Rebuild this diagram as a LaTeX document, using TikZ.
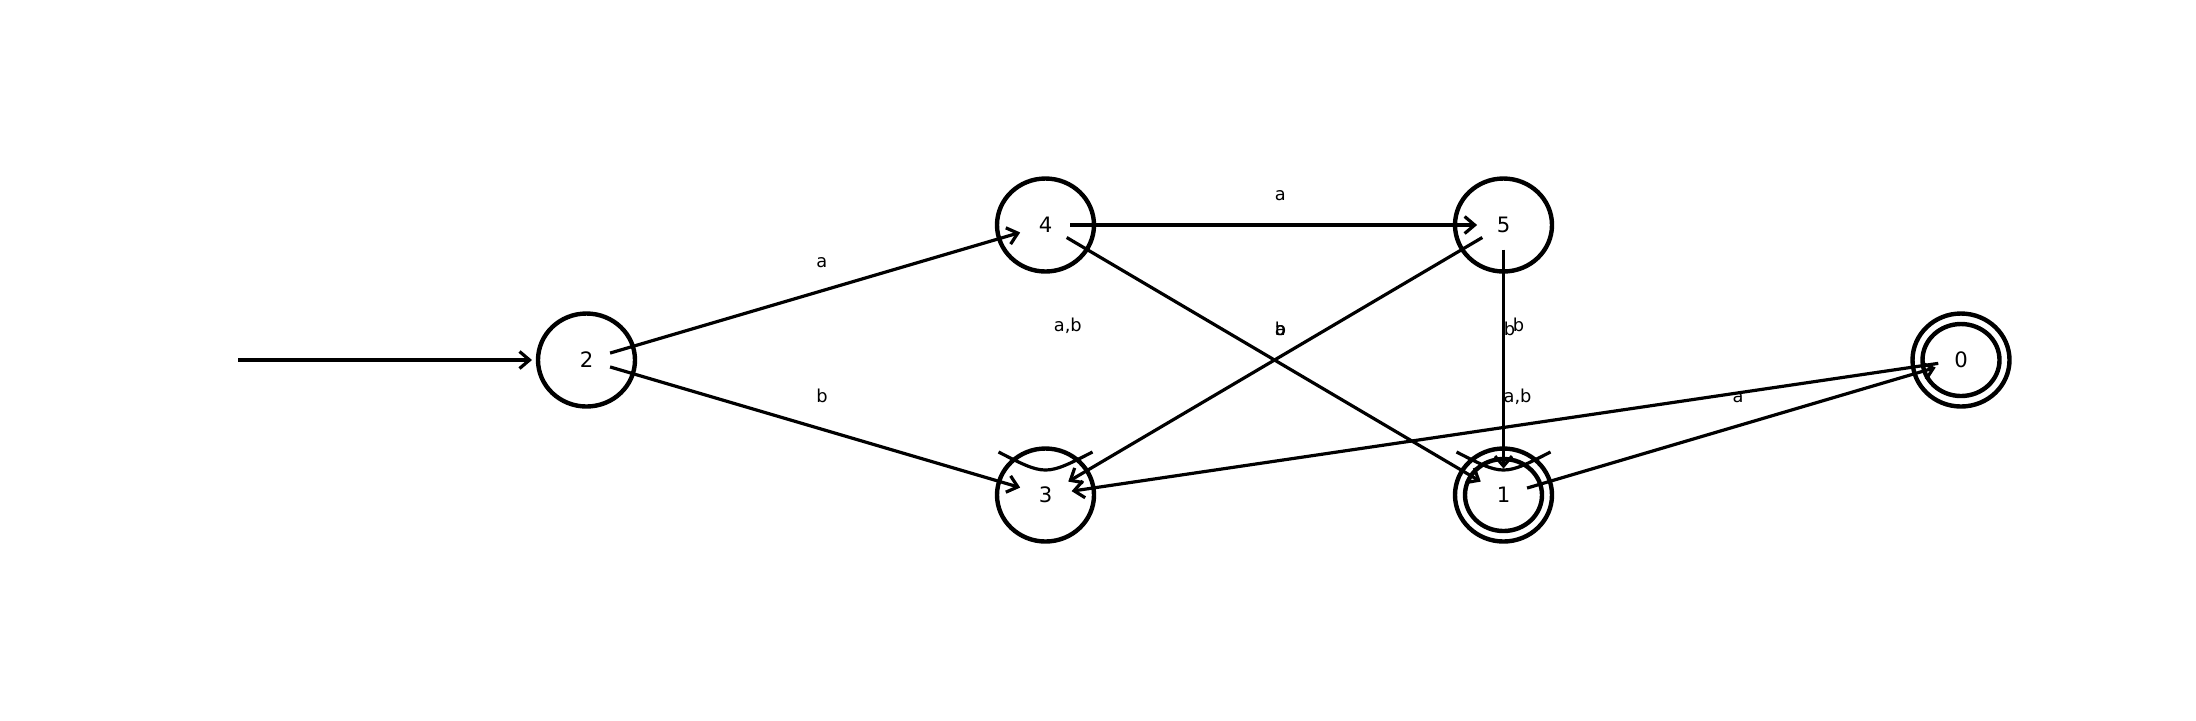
\documentclass[tikz,border=0pt]{standalone}
\usepackage{fontspec}
\setmainfont{DejaVu Sans}
\usetikzlibrary{arrows.meta,calc,shapes.geometric}
\tikzset{
  state/.style={ellipse, draw, line width=2.2pt, minimum width=48.5pt, minimum height=46.5pt, inner sep=0pt, font=\fontsize{10.6}{12}\selectfont},
  innerring/.style={ellipse, draw, line width=2.2pt, minimum width=38.5pt, minimum height=36pt, inner sep=0pt},
  edge/.style={line width=1.6pt, -{Straight Barb[length=5pt,width=8.5pt]}},
  loopline/.style={line width=1.6pt},
  lab/.style={anchor=base west, inner sep=0pt, font=\fontsize{8.9}{10}\selectfont},
}
\begin{document}
\begin{tikzpicture}[x=0.5pt,y=-0.5pt]
\useasboundingbox[fill=white] (0,0) rectangle (2196,720);
% states
\node[state] (n2) at (586.5,360) {2};
\node[state] (n4) at (1045.5,225) {4};
\node[state] (n5) at (1503.5,225) {5};
\node[state] (n3) at (1045.5,495) {3};
\node[state] (n1) at (1503.5,495) {1};
\node[innerring] (n1i) at (n1) {};
\node[state] (n0) at (1961,360) {0};
\node[innerring] (n0i) at (n0) {};
% initial arrow
\coordinate (init) at (238,360);
\coordinate (initend) at (532,360);
\draw[edge] (init) -- (initend);
% edges
\draw[edge] ($(n2)!12.3pt!(n4)$) -- ($(n4)!13.2pt!(n2)$);
\draw[edge] ($(n2)!12.3pt!(n3)$) -- ($(n3)!13.2pt!(n2)$);
\draw[edge] ($(n4)!12.3pt!(n5)$) -- ($(n5)!13.2pt!(n4)$);
\draw[edge] ($(n4)!12.3pt!(n1)$) -- ($(n1)!13.2pt!(n4)$);
\draw[edge] ($(n5)!12.3pt!(n3)$) -- ($(n3)!13.2pt!(n5)$);
\draw[edge] ($(n5)!12.3pt!(n1)$) -- ($(n1)!13.2pt!(n5)$);
\draw[edge] ($(n1)!12.3pt!(n0)$) -- ($(n0)!13.2pt!(n1)$);
\draw[edge] ($(n0)!11.5pt!(n3)$) -- ($(n3)!13.2pt!(n0)$);
% self loops
\coordinate (l3a) at ($(n3)+(-47,-43)$);
\coordinate (l3b) at ($(n3)+(47,-43)$);
\draw[loopline] (l3a) .. controls ($(n3)+(0,-19)$) .. (l3b);
\coordinate (l1a) at ($(n1)+(-47,-43)$);
\coordinate (l1b) at ($(n1)+(47,-43)$);
\draw[loopline] (l1a) .. controls ($(n1)+(0,-19)$) .. (l1b);
% labels
\node[lab] (t24) at ($(n2)!0.5!(n4)+(0,-25)$) {a};
\node[lab] (t23) at ($(n2)!0.5!(n3)+(0,-25)$) {b};
\node[lab] (t45) at ($(n4)!0.5!(n5)+(0,-25)$) {a};
\node[lab] (t41) at ($(n4)!0.5!(n1)+(0,-25)$) {b};
\node[lab] (t53) at ($(n5)!0.5!(n3)+(0,-25)$) {a};
\node[lab] (t51) at ($(n5)!0.5!(n1)+(0,-25)$) {b};
\node[lab] (t10) at ($(n1)!0.5!(n0)+(0,-25)$) {a};
\node[lab] (t03) at ($(n0)!0.5!(n3)+(0,-25)$) {a,b};
\node[lab] (t33) at ($(n3)+(8,-164)$) {a,b};
\node[lab] (t11) at ($(n1)+(9,-164)$) {b};
\end{tikzpicture}
\end{document}
